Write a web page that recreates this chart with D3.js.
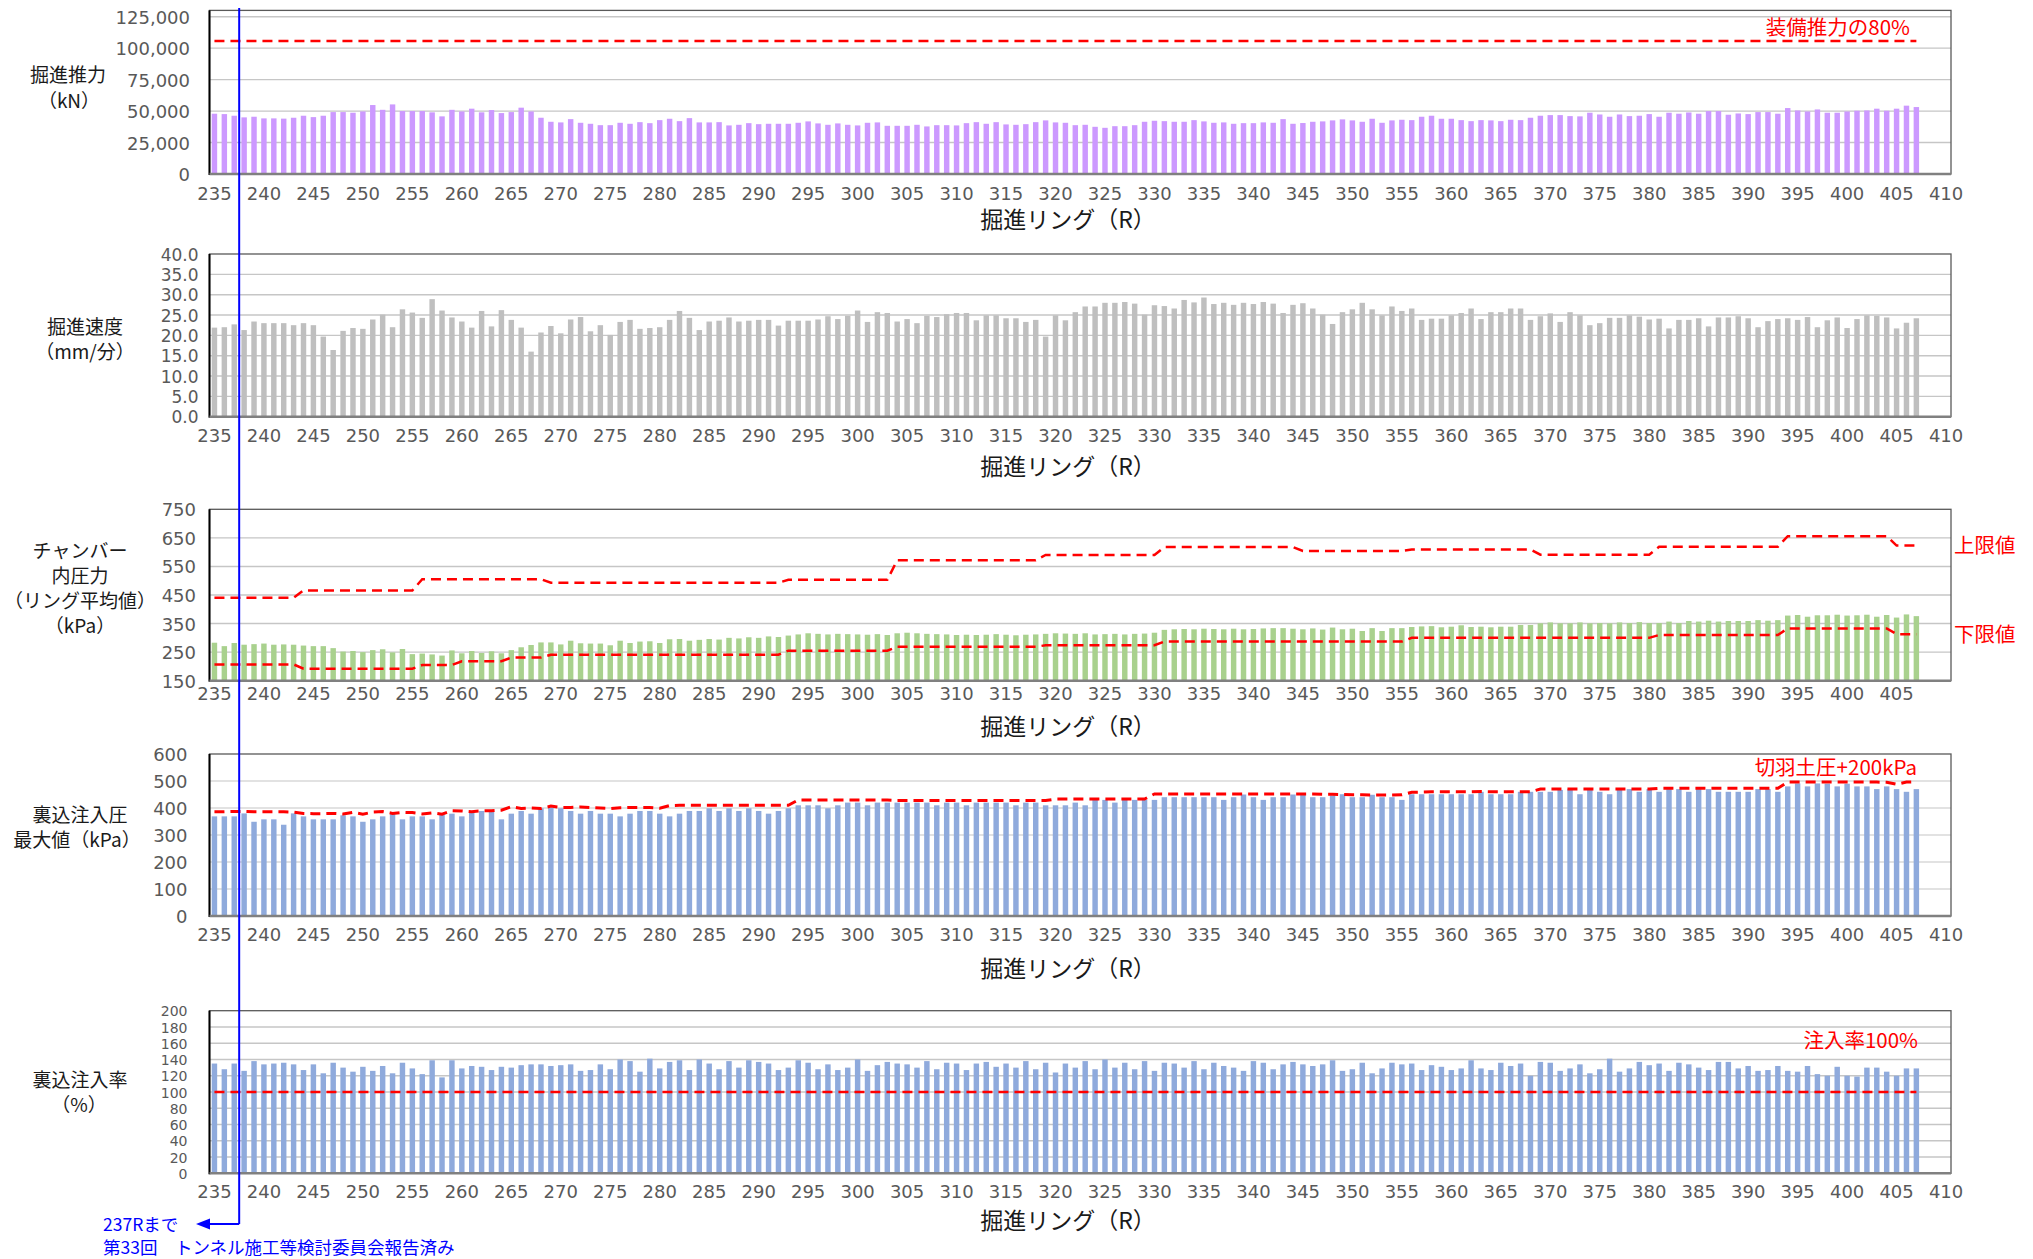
<!DOCTYPE html>
<html><head><meta charset="utf-8">
<script src="https://cdn.jsdelivr.net/npm/d3@7"></script>
<style>body{margin:0;background:#fff}svg{display:block}</style>
</head><body>
<svg id="c" width="2033" height="1259"></svg>
<script>
// ---------------- DATA ----------------
const rings = d3.range(235, 408);            // rings with data: 235R .. 407R
const axisRings = d3.range(235, 411);        // category axis 235 .. 410
const xTickLabels = [235,240,245,250,255,260,265,270,275,280,285,290,295,300,305,310,315,320,325,330,335,340,345,350,355,360,365,370,375,380,385,390,395,400,405,410];
const xTickLabelsChamber = [235,240,245,250,255,260,265,270,275,280,285,290,295,300,305,310,315,320,325,330,335,340,345,350,355,360,365,370,375,380,385,390,395,400,405];

const thrustTicks = [0,25000,50000,75000,100000,125000];
const speedTicks = [0,5,10,15,20,25,30,35,40];
const chamberTicks = [150,250,350,450,550,650,750];
const backfillTicks = [0,100,200,300,400,500,600];
const rateTicks = [0,20,40,60,80,100,120,140,160,180,200];

// 掘進推力 (kN)
const thrust = [
47900,47600,46300,45000,45500,44200,44200,44000,44700,46300,
45200,46300,49200,49200,48700,49700,54800,51000,55300,50000,
50000,50000,49000,45800,51000,49700,51900,49000,50800,48400,
49200,52700,49700,44700,41500,41000,43600,40700,39900,38800,
38800,40700,39900,41200,40400,42800,43900,42000,44400,41000,
41000,41200,38600,39100,40400,39600,39900,39900,39900,40700,
41800,40200,39100,40200,39100,38600,40700,41000,38300,38300,
38300,39100,37800,38800,38800,38600,40400,41200,39900,41200,
39400,39100,39600,41200,42600,41000,40700,38800,39100,37500,
36700,38000,38000,38800,41500,42300,42000,41500,41500,42800,
41800,40700,41000,39900,40400,40400,41000,40700,43600,39900,
40500,41500,41800,42600,43400,42600,41500,43900,40700,42600,
43100,42800,45500,46300,43900,43900,42800,42000,42800,42600,
42000,43100,42800,44700,46300,46800,46800,46000,45800,48700,
47300,45500,47300,46000,46300,47600,45500,48700,47900,48900,
47900,50000,50000,47100,48100,47600,49200,49200,47900,52400,
50500,49700,51300,48700,48700,49700,50300,50500,51900,50300,
51900,54300,53200];
const thrustLimit = 105600;   // 装備推力の80%

// 掘進速度 (mm/分)
const speed = [
21.9,22.0,22.7,21.3,23.4,23.0,23.0,23.0,22.5,23.0,
22.5,19.7,16.4,21.1,21.8,21.6,23.9,25.1,22.0,26.4,
25.6,24.3,28.9,26.1,24.4,23.4,21.9,26.0,22.2,26.2,
23.8,21.9,16.0,20.7,22.3,20.5,23.9,24.5,21.0,22.5,
20.1,23.3,23.8,21.6,21.8,22.0,23.8,26.0,24.3,21.3,
23.4,23.6,24.4,23.4,23.6,23.8,23.8,22.4,23.6,23.6,
23.6,23.9,24.7,24.0,24.8,26.1,23.3,25.7,25.5,23.4,
24.0,23.0,24.8,24.5,25.2,25.5,25.5,23.7,24.9,24.9,
24.2,24.2,23.3,23.8,19.7,24.9,23.7,25.7,27.1,27.1,
28.0,28.0,28.2,27.8,25.1,27.4,27.2,26.6,28.7,28.1,
29.3,27.7,28.0,27.5,28.0,27.7,28.2,27.8,25.5,27.5,
27.9,26.6,25.1,22.8,25.7,26.4,28.0,26.4,24.9,27.1,
26.0,26.6,23.8,24.1,24.1,24.9,25.5,26.6,24.0,25.7,
25.7,26.6,26.6,23.8,24.7,25.4,23.3,25.7,24.9,22.5,
23.0,24.3,24.3,24.9,24.6,23.9,24.1,21.7,23.8,23.8,
24.2,22.2,24.4,24.4,24.7,24.2,22.0,23.5,24.0,24.2,
23.8,24.5,22.0,23.7,24.4,21.8,24.0,24.9,24.8,24.4,
21.7,23.1,24.2];

// チャンバー内圧力 (リング平均値) (kPa)
const chamber = [
283,271,282,276,278,280,276,277,276,273,
271,271,264,252,254,250,257,260,249,261,
243,245,242,238,256,246,254,247,253,246,
257,267,275,284,284,277,290,281,280,280,
274,290,282,287,288,282,295,296,290,293,
296,294,300,298,302,300,305,303,308,312,
316,314,312,314,313,312,311,313,310,316,
318,316,314,313,312,310,311,310,311,313,
311,309,311,312,314,316,315,314,316,312,
313,314,312,314,315,318,328,330,331,330,
332,331,330,332,330,331,333,334,334,332,
330,333,329,336,330,332,324,334,324,334,
334,338,340,341,337,339,344,338,339,337,
339,339,345,345,351,354,351,351,354,351,
352,351,354,352,355,352,352,357,352,359,
357,360,357,359,359,359,362,360,362,378,
380,374,379,379,381,378,379,381,374,380,
371,382,376];
// 上限値
const chamberUpper = [
440,440,440,440,440,440,440,440,440,466,
466,466,466,466,466,466,466,466,466,466,
466,505,505,505,505,505,505,505,505,505,
505,505,505,505,493,493,493,493,493,493,
493,493,493,493,493,493,493,493,493,493,
493,493,493,493,493,493,493,493,503,503,
503,503,503,503,503,503,503,503,503,572,
572,572,572,572,572,572,572,572,572,572,
572,572,572,572,590,590,590,590,590,590,
590,590,590,590,590,590,618,618,618,618,
618,618,618,618,618,618,618,618,618,618,
604,604,604,604,604,604,604,604,604,604,
604,609,609,609,609,609,609,609,609,609,
609,609,609,609,591,591,591,591,591,591,
591,591,591,591,591,591,619,619,619,619,
619,619,619,619,619,619,619,619,619,656,
656,656,656,656,656,656,656,656,656,656,
623,623,623];
// 下限値
const chamberLower = [
207,207,207,207,207,207,207,207,207,192,
192,192,192,192,192,192,192,192,192,192,
192,205,205,205,205,218,218,218,218,218,
231,231,231,231,241,241,241,241,241,241,
241,241,241,241,241,241,241,241,241,241,
241,241,241,241,241,241,241,241,255,255,
255,255,255,255,255,255,255,255,255,269,
269,269,269,269,269,269,269,269,269,269,
269,269,269,269,274,274,274,274,274,274,
274,274,274,274,274,274,287,287,287,287,
287,287,287,287,287,287,287,287,287,287,
287,287,287,287,287,287,287,287,287,287,
287,300,300,300,300,300,300,300,300,300,
300,300,300,300,300,300,300,300,300,300,
300,300,300,300,300,300,310,310,310,310,
310,310,310,310,310,310,310,310,310,333,
333,333,333,333,333,333,333,333,333,333,
313,313,313];

// 裏込注入圧 最大値 (kPa)
const backfill = [
369,369,369,380,349,358,358,338,380,369,
358,358,358,373,369,349,358,369,379,358,
369,369,358,375,379,369,389,389,389,358,
379,389,379,399,402,399,389,379,389,379,
379,369,379,389,389,379,369,379,389,389,
399,389,399,389,399,389,379,389,399,410,
410,410,399,410,420,420,410,420,420,420,
420,420,420,410,420,420,410,420,420,420,
420,410,420,420,410,410,410,420,410,430,
430,420,430,430,430,430,440,440,440,440,
440,440,430,440,450,440,430,440,440,450,
448,440,440,447,451,440,440,449,440,440,
430,451,451,451,451,451,451,451,460,451,
451,451,460,460,460,460,467,470,451,470,
460,451,470,470,460,470,460,470,470,460,
470,470,460,460,460,460,470,470,460,480,
491,480,491,490,480,490,480,480,470,480,
470,460,470];
// 切羽土圧+200kPa
const backfillLimit = [
386,386,387,387,386,386,386,386,385,380,
379,379,380,378,384,377,385,387,380,384,
383,378,382,377,390,389,386,390,390,392,
405,398,400,398,407,402,402,404,402,400,
398,401,402,402,402,399,409,410,410,410,
410,410,410,410,410,410,410,410,410,430,
430,430,430,430,430,430,430,430,430,428,
428,428,428,428,428,428,428,428,428,428,
428,428,428,428,428,433,433,433,433,433,
433,433,433,433,433,452,452,452,452,452,
452,452,452,452,452,452,452,452,452,452,
452,452,451,451,450,449,449,448,448,448,
449,458,459,460,460,460,460,460,461,460,
460,460,460,460,470,470,470,470,470,470,
470,470,470,470,470,470,473,473,473,473,
473,473,473,473,473,473,473,473,473,496,
496,496,496,496,496,496,496,496,496,495,
488,496,497];

// 裏込注入率 (%)
const rate = [
135,128,135,126,138,134,135,136,134,127,
134,123,136,130,125,131,126,132,123,136,
129,122,139,118,139,129,132,131,127,131,
130,133,134,134,132,133,134,126,127,134,
128,140,138,125,141,129,137,139,127,140,
135,128,138,130,139,137,135,127,130,139,
136,128,134,127,130,140,126,133,137,135,
134,130,138,128,136,135,127,135,137,131,
135,130,138,128,136,124,135,130,138,128,
140,130,136,128,138,126,136,135,130,138,
128,136,132,130,126,138,136,128,134,137,
134,132,134,139,126,128,136,123,129,136,
134,135,127,133,131,127,129,139,129,127,
136,132,135,120,137,136,126,129,134,123,
128,141,125,129,137,133,135,126,136,134,
130,127,137,137,129,132,126,127,132,126,
125,132,122,120,131,120,119,130,130,125,
120,129,129];
const rateTarget = 100;   // 注入率100%

// ---------------- DRAWING ----------------
const svg = d3.select("#c");
const X0 = 209.5, X1 = 1951;
const x = d3.scaleBand().domain(axisRings).range([X0, X1]).paddingInner(0.45).paddingOuter(0.225);
const cx = r => x(r) + x.bandwidth() / 2;

const NUMFONT = "'DejaVu Sans', sans-serif";
const JPFONT = "'Noto Sans CJK JP', 'Noto Sans', sans-serif";

const panels = [
  { top: 10.4, bottom: 174, domain: [0, 130000], ticks: thrustTicks, fmt: d3.format(","), labelRight: 190, yfs: 18,
    values: thrust, color: "#cc99ff", grid: "#c6c6c6", xt: xTickLabels, xLabelCy: 193, titleCy: 219,
    lines: [{ data: rings.map(() => thrustLimit), w: 2.5 }],
    ytitle: [["掘進推力", 68, 75], ["（kN）", 69, 100.5]], tfs: 19,
    notes: [["装備推力の80%", 1910, 27, "end"]] },
  { top: 254, bottom: 416.7, domain: [0, 40], ticks: speedTicks, fmt: d3.format(".1f"), labelRight: 198.5, yfs: 17,
    values: speed, color: "#bfbfbf", grid: "#c6c6c6", xt: xTickLabels, xLabelCy: 435, titleCy: 466,
    lines: [],
    ytitle: [["掘進速度", 85, 326.5], ["（mm/分）", 85, 352]], tfs: 19,
    notes: [] },
  { top: 509.3, bottom: 680.7, domain: [150, 750], ticks: chamberTicks, fmt: d3.format("d"), labelRight: 196, yfs: 18,
    values: chamber, color: "#a9d18e", grid: "#c6c6c6", xt: xTickLabelsChamber, xLabelCy: 693, titleCy: 726,
    lines: [{ data: chamberUpper, w: 2.5 }, { data: chamberLower, w: 2.5 }],
    ytitle: [["チャンバー", 80, 550.5], ["内圧力", 80, 575.5], ["（リング平均値）", 80, 600.5], ["（kPa）", 80, 625.5]], tfs: 19,
    notes: [["上限値", 1954, 545, "start"], ["下限値", 1954, 634, "start"]] },
  { top: 754, bottom: 916, domain: [0, 600], ticks: backfillTicks, fmt: d3.format("d"), labelRight: 187.5, yfs: 18,
    values: backfill, color: "#8faadc", grid: "#d9d9d9", xt: xTickLabels, xLabelCy: 934, titleCy: 968,
    lines: [{ data: backfillLimit, w: 3 }],
    ytitle: [["裏込注入圧", 80, 814.5], ["最大値（kPa）", 77, 840]], tfs: 19,
    notes: [["切羽土圧+200kPa", 1917, 767, "end"]] },
  { top: 1010.7, bottom: 1173.3, domain: [0, 200], ticks: rateTicks, fmt: d3.format("d"), labelRight: 187.5, yfs: 14,
    values: rate, color: "#8faadc", grid: "#c6c6c6", xt: xTickLabels, xLabelCy: 1191.5, titleCy: 1220,
    lines: [{ data: rings.map(() => rateTarget), w: 2.5 }],
    ytitle: [["裏込注入率", 80, 1079.5], ["（%）", 79, 1105]], tfs: 19,
    notes: [["注入率100%", 1918, 1040, "end"]] }
];

panels.forEach(p => {
  const g = svg.append("g");
  const y = d3.scaleLinear().domain(p.domain).range([p.bottom, p.top]);

  // gridlines
  g.selectAll("line.grid").data(p.ticks.filter(t => t > p.domain[0] && y(t) > p.top + 2))
    .join("line").attr("class", "grid")
    .attr("x1", X0).attr("x2", X1).attr("y1", d => y(d)).attr("y2", d => y(d))
    .attr("stroke", p.grid).attr("stroke-width", 1.4);

  // bars
  g.selectAll("rect.bar").data(rings.map((r, i) => ({ r, v: p.values[i] })))
    .join("rect").attr("class", "bar")
    .attr("x", d => x(d.r)).attr("width", x.bandwidth())
    .attr("y", d => y(d.v)).attr("height", d => y(p.domain[0]) - y(d.v))
    .attr("fill", p.color);

  // dashed reference lines
  p.lines.forEach(L => {
    const line = d3.line().x((d, i) => cx(rings[i])).y(d => y(d));
    g.append("path").attr("d", line(L.data)).attr("fill", "none")
      .attr("stroke", "#ff0000").attr("stroke-width", L.w).attr("stroke-dasharray", "10,6");
  });

  // frame
  g.append("rect").attr("x", X0).attr("y", p.top).attr("width", X1 - X0).attr("height", p.bottom - p.top)
    .attr("fill", "none").attr("stroke", "#595959").attr("stroke-width", 1.3);
  g.append("line").attr("x1", X0).attr("x2", X0).attr("y1", p.top).attr("y2", p.bottom + 1)
    .attr("stroke", "#000").attr("stroke-width", 2);
  g.append("line").attr("x1", X0).attr("x2", X1).attr("y1", p.bottom).attr("y2", p.bottom)
    .attr("stroke", "#808080").attr("stroke-width", 2.4);

  // y axis
  const ya = g.append("g").attr("transform", `translate(${X0},0)`)
    .call(d3.axisLeft(y).tickValues(p.ticks).tickFormat(p.fmt).tickSize(0).tickPadding(X0 - p.labelRight));
  ya.select(".domain").remove();
  ya.selectAll("text").attr("dy", "0.36em").attr("font-family", NUMFONT).attr("font-size", p.yfs).attr("fill", "#595959");

  // x axis
  const xa = g.append("g").attr("transform", `translate(0,${p.bottom})`)
    .call(d3.axisBottom(x).tickValues(p.xt).tickSize(0));
  xa.select(".domain").remove();
  xa.selectAll("text").attr("dy", null).attr("y", p.xLabelCy - p.bottom + 6.6)
    .attr("font-family", NUMFONT).attr("font-size", 18).attr("fill", "#595959");

  // x title
  g.append("text").attr("x", 1068).attr("y", p.titleCy + 8.7).attr("text-anchor", "middle")
    .attr("font-family", JPFONT).attr("font-size", 23).attr("fill", "#1a1a1a").text("掘進リング（R）");

  // y title
  p.ytitle.forEach(([t, tx, ty]) => {
    g.append("text").attr("x", tx).attr("y", ty + 0.375 * p.tfs).attr("text-anchor", "middle")
      .attr("font-family", JPFONT).attr("font-size", p.tfs).attr("fill", "#1a1a1a").text(t);
  });

  // red notes
  p.notes.forEach(([t, tx, ty, anchor]) => {
    g.append("text").attr("x", tx).attr("y", ty + 7.8).attr("text-anchor", anchor)
      .attr("font-family", JPFONT).attr("font-size", 20.5).attr("fill", "#ff0000").text(t);
  });
});

// blue annotation (報告済み範囲)
const bx = cx(237) + x.step() / 2;
const arrowY = 1224;
svg.append("line").attr("x1", bx).attr("x2", bx).attr("y1", 8).attr("y2", arrowY)
  .attr("stroke", "#0000ff").attr("stroke-width", 2);
svg.append("line").attr("x1", bx).attr("x2", 206).attr("y1", arrowY).attr("y2", arrowY)
  .attr("stroke", "#0000ff").attr("stroke-width", 2);
svg.append("path").attr("d", `M196,${arrowY} L210,${arrowY - 5.5} L210,${arrowY + 5.5} Z`).attr("fill", "#0000ff");
svg.append("text").attr("x", 103).attr("y", arrowY + 6.5).attr("font-family", JPFONT).attr("font-size", 17.5)
  .attr("fill", "#0000ff").text("237Rまで");
svg.append("text").attr("x", 103).attr("y", 1253.5).attr("font-family", JPFONT).attr("font-size", 17.5)
  .attr("fill", "#0000ff").text("第33回　トンネル施工等検討委員会報告済み");
</script>
</body></html>
